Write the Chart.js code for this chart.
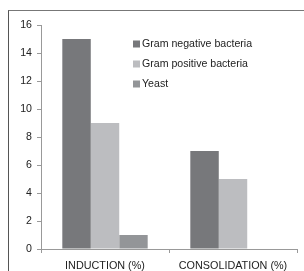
<!DOCTYPE html>
<html>
<head>
<meta charset="utf-8">
<script src="https://cdn.jsdelivr.net/npm/chart.js@4/dist/chart.umd.min.js"></script>
<style>
  html, body { margin: 0; padding: 0; background: #fff; }
  #wrap { position: relative; width: 304px; height: 271px; }
  #frame { position: absolute; left: 8px; top: 10px; width: 320px; height: 300px;
           border-left: 1px solid #555; border-top: 1px solid #777; }
  canvas { position: absolute; left: 0; top: 0; }
</style>
</head>
<body>
<div id="wrap">
  <div id="frame"></div>
  <canvas id="c" width="304" height="271"></canvas>
</div>
<script>
"use strict";
var categories = ["INDUCTION (%)", "CONSOLIDATION (%)"];
var gramNegative = [15, 7];
var gramPositive = [9, 5];
var yeast = [1, 0];
var yTicks = [0, 2, 4, 6, 8, 10, 12, 14, 16];

// legend drawn inside the plot, top right
var legendInside = {
  id: "legendInside",
  afterDraw: function (chart) {
    var ctx = chart.ctx;
    ctx.save();
    ctx.font = "10.6px 'Liberation Sans', Arial, sans-serif";
    ctx.textBaseline = "middle";
    chart.data.datasets.forEach(function (d, i) {
      var y = 44 + i * 20;
      ctx.fillStyle = d.backgroundColor;
      ctx.fillRect(133, y - 3.5, 7, 7);
      ctx.fillStyle = "#222";
      ctx.fillText(d.label, 142, y);
    });
    ctx.restore();
  },
};

new Chart(document.getElementById("c"), {
  type: "bar",
  data: {
    labels: categories,
    datasets: [
      { label: "Gram negative bacteria", data: gramNegative, backgroundColor: "#77787b" },
      { label: "Gram positive bacteria", data: gramPositive, backgroundColor: "#bcbdc0" },
      { label: "Yeast", data: yeast, backgroundColor: "#939598" },
    ],
  },
  options: {
    responsive: false,
    animation: false,
    layout: { padding: { left: 0, right: 7, top: 25, bottom: 0 } },
    plugins: { legend: { display: false }, tooltip: { enabled: false } },
    datasets: { bar: { categoryPercentage: 0.667, barPercentage: 1 } },
    scales: {
      x: {
        grid: { display: true, drawOnChartArea: false, tickLength: 4, color: "#999" },
        border: { color: "#999" },
        ticks: { color: "#222", font: { size: 10.8, family: "'Liberation Sans', Arial, sans-serif" }, padding: 7, maxRotation: 0 },
        afterFit: function (s) { s.height = 22; },
      },
      y: {
        min: 0,
        max: 16,
        afterBuildTicks: function (s) { s.ticks = yTicks.map(function (v) { return { value: v }; }); },
        grid: { display: true, drawOnChartArea: false, tickLength: 4, color: "#999" },
        border: { color: "#999" },
        ticks: { color: "#222", font: { size: 10.6, family: "'Liberation Sans', Arial, sans-serif" }, padding: 5 },
        afterFit: function (s) { s.width = 41; },
      },
    },
  },
  plugins: [legendInside],
});
</script>
</body>
</html>
